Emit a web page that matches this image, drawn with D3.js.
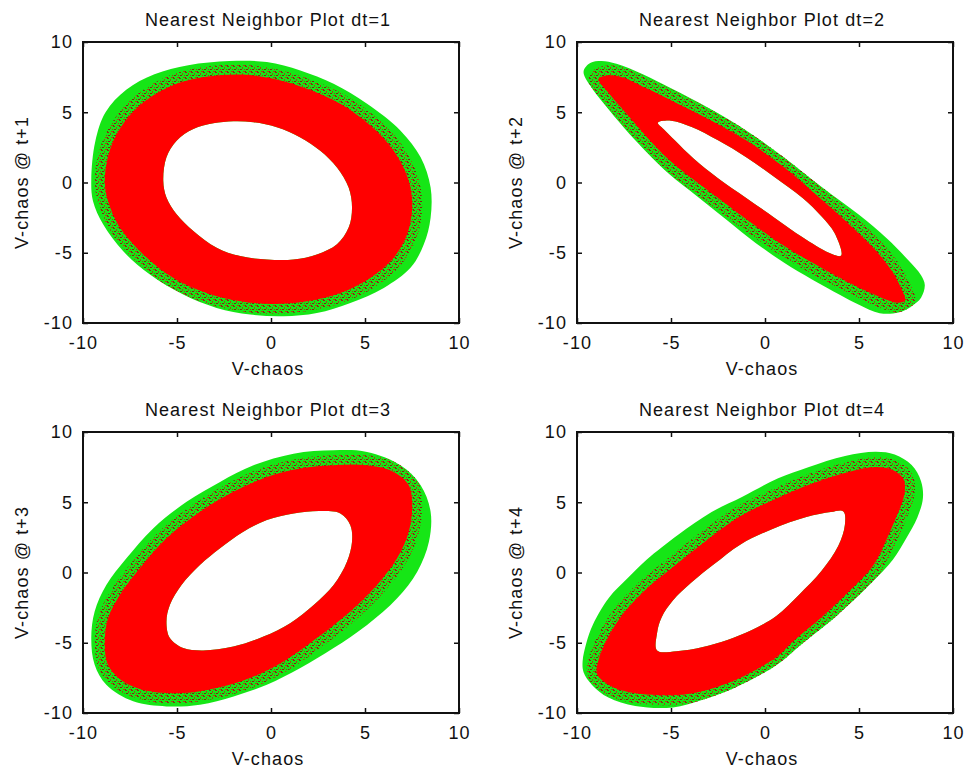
<!DOCTYPE html>
<html>
<head>
<meta charset="utf-8">
<script src="https://cdn.jsdelivr.net/npm/d3@7"></script>
<style>
  body { margin: 0; background: #fff; }
  text { font-family: "Liberation Sans", Arial, sans-serif; fill: #111; letter-spacing: 1.1px; }
</style>
</head>
<body>
<svg id="chart" width="965" height="774"></svg>
<script>
// Tick values and labels
var xTicks = [-10, -5, 0, 5, 10];
var yTicks = [-10, -5, 0, 5, 10];
var titles = ["Nearest Neighbor Plot dt=1", "Nearest Neighbor Plot dt=2",
              "Nearest Neighbor Plot dt=3", "Nearest Neighbor Plot dt=4"];
var yLabels = ["V-chaos @ t+1", "V-chaos @ t+2", "V-chaos @ t+3", "V-chaos @ t+4"];
var xLabel = "V-chaos";

// Outlines of the point clouds (V-chaos, V-chaos @ t+dt)
// green = outer envelope, red = dense band, hole = empty centre
var green1 = [[-9.56,0.2],[-9.35,2.9],[-8.8,5.0],[-7.7,6.6],[-6.2,7.7],[-4.4,8.35],[-2.2,8.65],[-0.22,8.57],[1.56,7.98],[3.33,7.02],[5.11,5.6],[6.89,3.69],[7.96,1.79],[8.49,-0.36],[8.49,-2.5],[8.13,-4.4],[7.42,-6.07],[6.0,-7.5],[4.22,-8.57],[2.44,-9.29],[0.67,-9.52],[-1.11,-9.4],[-2.89,-8.93],[-4.67,-7.98],[-6.44,-6.55],[-7.87,-4.88],[-8.93,-2.98],[-9.47,-1.31]];
var red1 = [[-8.84,0.12],[-8.55,2.4],[-7.8,4.3],[-6.7,5.8],[-5.1,7.0],[-3.35,7.55],[-1.5,7.68],[0.13,7.38],[1.91,6.67],[3.69,5.6],[5.29,4.05],[6.53,2.26],[7.33,0.12],[7.51,-1.79],[7.24,-3.69],[6.53,-5.36],[5.29,-6.79],[3.69,-7.86],[1.91,-8.45],[0.13,-8.64],[-1.64,-8.45],[-3.42,-7.86],[-5.2,-6.79],[-6.8,-5.12],[-8.04,-3.21],[-8.67,-1.31]];
var hole1 = [[-5.73,0.12],[-5.56,1.79],[-5.02,2.98],[-4.13,3.81],[-3.07,4.21],[-2.0,4.36],[-0.93,4.29],[0.31,3.93],[1.56,3.21],[2.62,2.26],[3.51,1.07],[4.13,-0.36],[4.31,-1.79],[4.13,-3.21],[3.51,-4.4],[2.44,-5.12],[1.2,-5.48],[-0.22,-5.48],[-1.64,-5.24],[-2.89,-4.64],[-4.13,-3.45],[-5.02,-2.26],[-5.56,-1.07]];

var green2 = [[-9.65,7.9],[-9.3,8.5],[-8.7,8.65],[-7.9,8.45],[-6.5,7.7],[-5.0,6.7],[-3.0,5.3],[-1.0,3.7],[1.0,1.8],[3.0,-0.3],[5.0,-2.3],[6.5,-4.0],[7.6,-5.5],[8.3,-6.6],[8.5,-7.3],[8.3,-8.2],[7.8,-8.8],[7.1,-9.25],[6.1,-9.3],[5.0,-8.7],[4.0,-8.0],[2.5,-6.9],[1.0,-5.7],[-0.5,-4.3],[-2.0,-2.7],[-3.6,-1.0],[-5.1,0.6],[-6.4,2.3],[-7.5,3.9],[-8.5,5.5],[-9.3,6.9]];
var red2 = [[-8.85,7.35],[-8.5,7.6],[-7.6,7.5],[-6.3,6.7],[-5.0,5.85],[-3.0,4.5],[-1.0,3.0],[1.0,1.1],[3.0,-1.2],[4.5,-3.0],[5.8,-4.7],[6.7,-6.2],[7.2,-7.4],[7.45,-8.4],[7.0,-8.55],[5.5,-7.8],[4.0,-6.8],[2.5,-5.7],[1.0,-4.5],[-0.5,-3.1],[-2.0,-1.6],[-3.6,0.0],[-5.1,1.6],[-6.4,3.4],[-7.5,5.1],[-8.4,6.5]];
var hole2 = [[-5.7,4.25],[-5.0,4.4],[-3.9,3.95],[-2.5,3.0],[-1.0,1.8],[0.5,0.4],[2.0,-1.1],[3.0,-2.4],[3.7,-3.6],[4.05,-5.2],[3.4,-5.0],[2.0,-3.9],[0.5,-2.5],[-1.0,-1.1],[-2.5,0.3],[-3.8,1.7],[-4.8,3.0],[-5.4,3.8]];

var green3 = [[-9.56,-4.67],[-9.38,-2.78],[-8.76,-0.89],[-7.69,1.01],[-6.27,3.14],[-4.49,5.03],[-2.71,6.45],[-0.93,7.63],[1.2,8.46],[3.33,8.7],[5.11,8.58],[6.89,7.63],[7.96,6.21],[8.49,4.32],[8.4,2.19],[7.78,0.06],[6.71,-1.83],[5.11,-3.73],[3.33,-5.38],[1.56,-6.8],[-0.22,-7.99],[-1.99,-8.82],[-3.78,-9.41],[-5.56,-9.53],[-7.33,-9.17],[-8.76,-7.99],[-9.38,-6.57]];
var red3 = [[-8.84,-4.91],[-8.67,-3.25],[-8.04,-1.6],[-6.98,0.3],[-5.56,2.43],[-3.78,4.32],[-2.0,5.74],[-0.22,6.8],[1.56,7.4],[3.33,7.63],[5.11,7.63],[6.53,7.16],[7.33,6.21],[7.51,4.79],[7.33,2.9],[6.71,1.01],[5.64,-0.89],[4.22,-2.78],[2.44,-4.67],[0.67,-6.33],[-1.11,-7.51],[-2.89,-8.22],[-4.67,-8.58],[-6.44,-8.46],[-7.87,-7.75],[-8.67,-6.57]];
var hole3 = [[-5.56,-3.49],[-5.38,-2.31],[-4.76,-0.89],[-3.78,0.53],[-2.71,1.72],[-1.47,2.9],[-0.22,3.73],[1.2,4.2],[2.62,4.37],[3.69,4.2],[4.22,3.37],[4.31,2.19],[4.04,0.77],[3.33,-0.89],[2.27,-2.31],[1.02,-3.61],[-0.4,-4.56],[-2.0,-5.27],[-3.6,-5.55],[-4.67,-5.38],[-5.38,-4.67]];

var green4 = [[-9.7,-6.3],[-9.5,-5.0],[-9.15,-3.7],[-8.3,-1.8],[-7.3,-0.4],[-6.3,0.9],[-4.6,2.7],[-2.84,4.3],[-1.2,5.4],[0.7,6.7],[2.3,7.5],[4.26,8.3],[5.9,8.6],[6.9,8.4],[7.8,7.65],[8.3,6.5],[8.4,5.3],[8.1,3.9],[7.5,2.4],[6.8,0.9],[5.7,-0.7],[3.72,-3.2],[1.95,-5.1],[0.6,-6.6],[-1.6,-8.2],[-3.4,-9.1],[-4.9,-9.6],[-6.9,-9.5],[-8.33,-8.9],[-9.2,-8.0],[-9.65,-7.1]];
var red4 = [[-8.94,-7.2],[-8.85,-6.2],[-8.5,-5.0],[-7.7,-3.2],[-6.5,-1.4],[-4.7,0.6],[-3.0,2.4],[-1.33,4.0],[0.5,5.2],[2.22,6.2],[4.0,7.0],[5.76,7.5],[6.8,7.3],[7.35,6.7],[7.45,6.0],[7.36,5.25],[7.0,4.0],[6.65,2.9],[5.76,0.5],[4.5,-1.3],[3.0,-3.2],[1.5,-4.9],[0.64,-6.0],[-1.0,-7.3],[-2.02,-7.9],[-3.5,-8.5],[-4.68,-8.72],[-6.0,-8.7],[-7.34,-8.48],[-8.3,-8.0]];
var hole4 = [[-5.74,-5.55],[-5.74,-4.3],[-5.5,-3.2],[-4.9,-2.0],[-3.9,-0.7],[-2.7,0.6],[-1.3,2.0],[0.4,3.1],[2.2,3.95],[3.5,4.3],[4.17,4.35],[4.25,3.4],[3.9,1.9],[3.0,0.1],[1.8,-1.6],[0.6,-3.1],[-0.7,-4.1],[-2.0,-4.8],[-3.3,-5.3],[-4.7,-5.6]];

var clouds = [
    { green: green1, red: red1, hole: hole1 },
    { green: green2, red: red2, hole: hole2 },
    { green: green3, red: red3, hole: hole3 },
    { green: green4, red: red4, hole: hole4 }
];

// Panel boxes (left, top) in the page
var boxes = [{ left: 83, top: 42 }, { left: 577, top: 42 }, { left: 83, top: 432 }, { left: 577, top: 432 }];
var width = 376, height = 281;

var svg = d3.select("#chart");

// speckle pattern for the mixed green/red fringe
var defs = svg.append("defs");
var pat = defs.append("pattern")
    .attr("id", "speck")
    .attr("patternUnits", "userSpaceOnUse")
    .attr("width", 6).attr("height", 6);
[[0,0,2,1,"#8a2d10"],[3,1,1,2,"#9a4a12"],[1,3,2,1,"#7a2a0c"],[5,3,1,1,"#a03a10"],[4,5,2,1,"#b04010"],[0,5,1,1,"#6a3a10"]]
    .forEach(function(r) {
        pat.append("rect").attr("x", r[0]).attr("y", r[1]).attr("width", r[2]).attr("height", r[3]).attr("fill", r[4]);
    });

var x = d3.scaleLinear().domain([-10, 10]).range([0, width]);
var y = d3.scaleLinear().domain([-10, 10]).range([height, 0]);

var outline = d3.line()
    .x(function(d) { return x(d[0]); })
    .y(function(d) { return y(d[1]); })
    .curve(d3.curveCatmullRomClosed.alpha(0.5));

var plain = function(d) { return String(d); };

boxes.forEach(function(b, i) {
    var g = svg.append("g").attr("transform", "translate(" + b.left + "," + b.top + ")");
    var c = clouds[i];

    defs.append("clipPath").attr("id", "clip" + i)
        .append("path").attr("d", outline(c.green));

    // outer green envelope (hole left empty)
    g.append("path")
        .attr("d", outline(c.green) + outline(c.hole))
        .attr("fill", "#16e616")
        .attr("fill-rule", "evenodd");

    // speckled fringe next to the red band
    g.append("path")
        .attr("d", outline(c.red))
        .attr("fill", "none")
        .attr("stroke", "url(#speck)")
        .attr("stroke-width", 20)
        .attr("clip-path", "url(#clip" + i + ")");

    // dense red band with white centre
    g.append("path")
        .attr("d", outline(c.red) + outline(c.hole))
        .attr("fill", "#ff0000")
        .attr("fill-rule", "evenodd");

    // axes, ticks inside
    g.append("g").attr("class", "x-axis")
        .attr("transform", "translate(0," + height + ")")
        .call(d3.axisBottom(x).tickValues(xTicks).tickSize(-5).tickPadding(13).tickFormat(plain));
    g.append("g").call(d3.axisTop(x).tickValues(xTicks).tickSize(-5).tickFormat(""));
    g.append("g").attr("class", "y-axis")
        .call(d3.axisLeft(y).tickValues(yTicks).tickSize(-5).tickPadding(10).tickFormat(plain));
    g.append("g").attr("transform", "translate(" + width + ",0)")
        .call(d3.axisRight(y).tickValues(yTicks).tickSize(-5).tickFormat(""));

    g.selectAll(".domain").remove();
    g.selectAll(".tick line").attr("stroke", "#111").attr("stroke-width", 1.5);
    g.selectAll(".tick text").style("font-size", "18px").attr("fill", "#111");

    g.append("rect")
        .attr("width", width).attr("height", height)
        .attr("fill", "none").attr("stroke", "#111").attr("stroke-width", 2);

    // title and axis labels
    g.append("text")
        .attr("x", width / 2 - 3).attr("y", -16)
        .attr("text-anchor", "middle")
        .style("font-size", "18px")
        .text(titles[i]);

    g.append("text")
        .attr("x", width / 2 - 3).attr("y", height + 52)
        .attr("text-anchor", "middle")
        .style("font-size", "18px")
        .text(xLabel);

    g.append("text")
        .attr("transform", "rotate(-90)")
        .attr("x", -height / 2).attr("y", -55)
        .attr("text-anchor", "middle")
        .style("font-size", "18px")
        .text(yLabels[i]);
});
</script>
</body>
</html>
